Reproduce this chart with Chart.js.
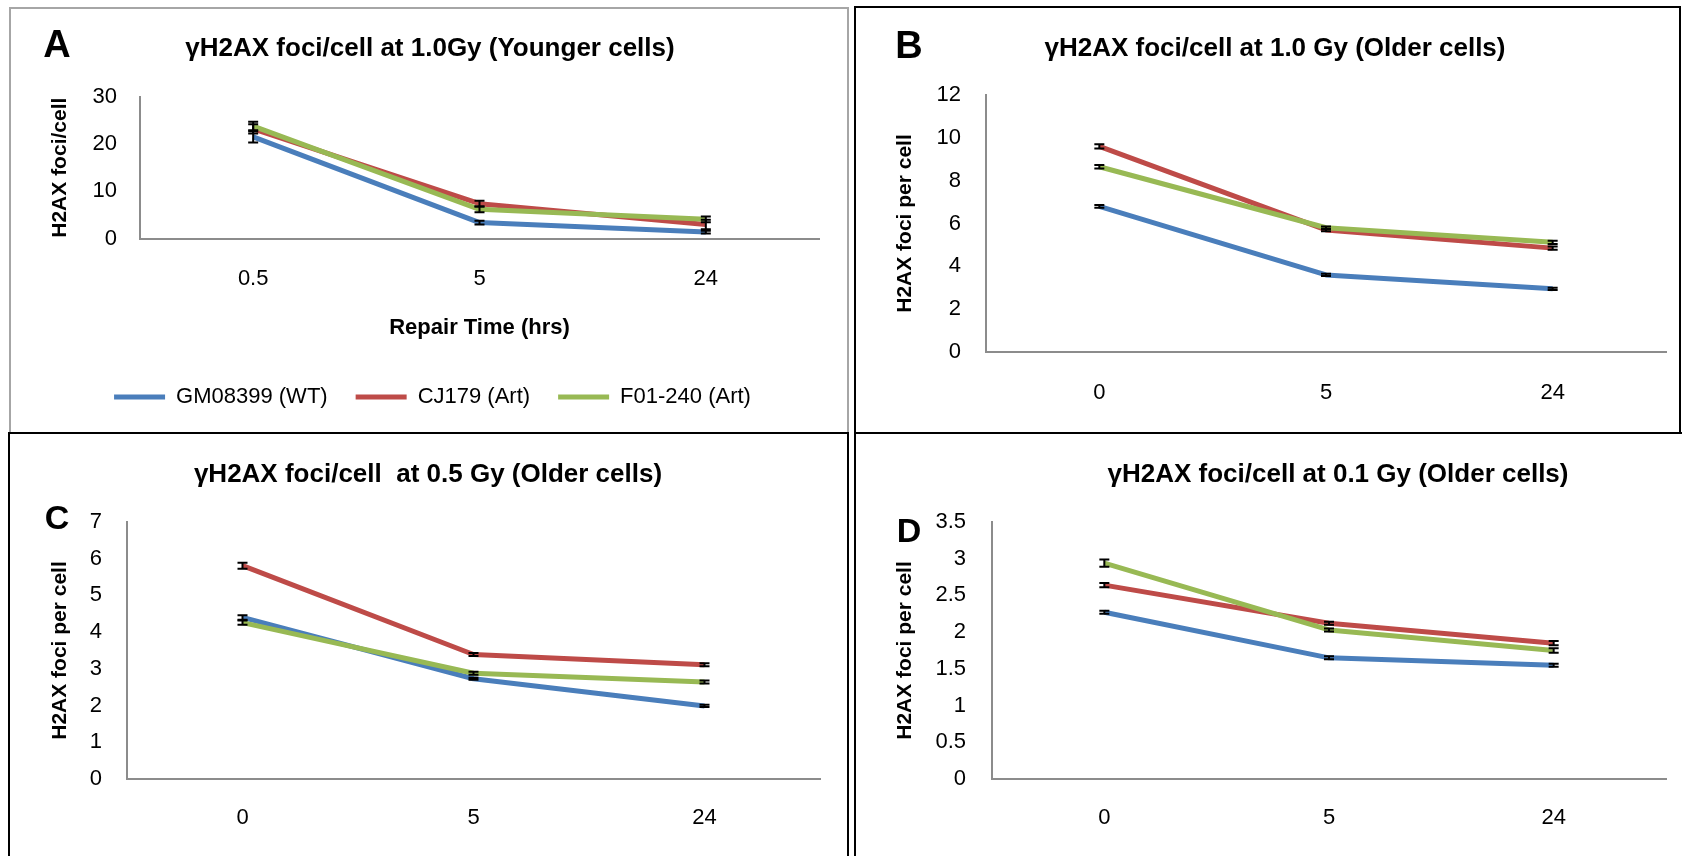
<!DOCTYPE html>
<html>
<head>
<meta charset="utf-8">
<script src="https://cdn.jsdelivr.net/npm/chart.js@4.4.0/dist/chart.umd.min.js"></script>
<style>
html, body { margin: 0; padding: 0; background: #fff; width: 1682px; height: 856px; overflow: hidden; }
body { position: relative; font-family: "Liberation Sans", Arial, sans-serif; color: #000; }
.box { position: absolute; box-sizing: border-box; }
canvas { position: absolute; }
.ttl { position: absolute; transform: translate(-50%, -50%); font-weight: bold; font-size: 26px; white-space: pre; }
.let { position: absolute; transform: translate(-50%, -50%); font-weight: bold; font-size: 38px; line-height: 1; }
</style>
</head>
<body>
<div class="box" style="left:9px;top:7px;width:840px;height:427px;border:2px solid #a6a6a6;border-bottom:none;"></div>
<div class="box" style="left:854px;top:6px;width:827px;height:428px;border:2px solid #000;"></div>
<div class="box" style="left:8px;top:432px;width:841px;height:440px;border:2px solid #000;border-bottom:none;"></div>
<div class="box" style="left:854px;top:432px;width:840px;height:440px;border-top:2px solid #000;border-left:2px solid #000;"></div>

<canvas id="chartA" width="802" height="425" style="left:46px;top:8px;"></canvas>
<canvas id="chartB" width="824" height="425" style="left:856px;top:8px;"></canvas>
<canvas id="chartC" width="838" height="422" style="left:10px;top:434px;"></canvas>
<canvas id="chartD" width="826" height="422" style="left:856px;top:434px;"></canvas>

<div class="ttl" style="left:430px;top:47px;">γH2AX foci/cell at 1.0Gy (Younger cells)</div>
<div class="ttl" style="left:1275px;top:47px;">γH2AX foci/cell at 1.0 Gy (Older cells)</div>
<div class="ttl" style="left:428px;top:473px;">γH2AX foci/cell  at 0.5 Gy (Older cells)</div>
<div class="ttl" style="left:1338px;top:473px;">γH2AX foci/cell at 0.1 Gy (Older cells)</div>

<div class="let" style="left:57px;top:44px;">A</div>
<div class="let" style="left:909px;top:45px;">B</div>
<div class="let" style="left:57px;top:517px;font-size:34px;">C</div>
<div class="let" style="left:909px;top:530px;font-size:34px;">D</div>

<script>
Chart.defaults.font.family = '"Liberation Sans", Arial, sans-serif';
Chart.defaults.color = '#000';
Chart.defaults.animation = false;

const timesYoung = ['0.5', '5', '24'];
const timesOld = ['0', '5', '24'];
const cellLines = ['GM08399 (WT)', 'CJ179 (Art)', 'F01-240 (Art)'];

// A - 1.0 Gy, younger cells
const a_wt = [21.5, 3.4, 1.4];
const a_cj = [23.2, 7.4, 3.0];
const a_f01 = [23.8, 6.2, 4.1];
const a_wtErr = [1.2, 0.4, 0.3];
const a_cjErr = [1.0, 0.6, 1.0];
const a_f01Err = [0.9, 0.6, 0.6];

// B - 1.0 Gy, older cells
const b_wt = [6.8, 3.6, 2.95];
const b_cj = [9.6, 5.7, 4.85];
const b_f01 = [8.65, 5.8, 5.12];
const b_wtErr = [0.06, 0.05, 0.05];
const b_cjErr = [0.1, 0.06, 0.08];
const b_f01Err = [0.08, 0.06, 0.08];

// C - 0.5 Gy, older cells
const c_wt = [4.40, 2.73, 1.99];
const c_cj = [5.81, 3.39, 3.11];
const c_f01 = [4.26, 2.88, 2.64];
const c_wtErr = [0.06, 0.03, 0.03];
const c_cjErr = [0.08, 0.04, 0.04];
const c_f01Err = [0.06, 0.04, 0.04];

// D - 0.1 Gy, older cells
const d_wt = [2.27, 1.65, 1.55];
const d_cj = [2.64, 2.12, 1.85];
const d_f01 = [2.94, 2.03, 1.75];
const d_wtErr = [0.02, 0.02, 0.02];
const d_cjErr = [0.03, 0.02, 0.03];
const d_f01Err = [0.05, 0.02, 0.03];

const lineColors = ['#4a7ebb', '#be4b48', '#98b954'];
const axisColor = '#8c8c8c';

const errorBars = {
    id: 'errorBars',
    afterDatasetsDraw(chart) {
        const ctx = chart.ctx;
        const yScale = chart.scales.y;
        chart.data.datasets.forEach((ds, i) => {
            const meta = chart.getDatasetMeta(i);
            ctx.save();
            ctx.strokeStyle = '#000';
            ctx.lineWidth = 2;
            meta.data.forEach((pt, j) => {
                const v = ds.data[j], e = ds.errors[j];
                const hi = yScale.getPixelForValue(v + e);
                const lo = yScale.getPixelForValue(v - e);
                ctx.beginPath();
                ctx.moveTo(pt.x, hi); ctx.lineTo(pt.x, lo);
                ctx.moveTo(pt.x - 5, hi); ctx.lineTo(pt.x + 5, hi);
                ctx.moveTo(pt.x - 5, lo); ctx.lineTo(pt.x + 5, lo);
                ctx.stroke();
            });
            ctx.restore();
        });
    }
};

const makePanel = (id, cats, series, errs, yMax, yStep, yTitle, lay) => {
    const datasets = series.map((vals, i) => ({
        label: cellLines[i],
        data: vals,
        errors: errs[i],
        borderColor: lineColors[i],
        backgroundColor: lineColors[i],
        borderWidth: 5,
        pointRadius: 0,
        tension: 0,
        fill: false,
        borderJoinStyle: 'round',
        order: 3 - i
    }));

    return new Chart(document.getElementById(id), {
        type: 'line',
        data: { labels: cats, datasets: datasets },
        options: {
            responsive: false,
            devicePixelRatio: 1,
            layout: { padding: { left: 0, right: lay.padR, top: lay.top, bottom: lay.padB } },
            plugins: {
                tooltip: { enabled: false },
                title: { display: false },
                legend: {
                    display: lay.legend,
                    position: 'bottom',
                    labels: {
                        boxWidth: 51,
                        boxHeight: 5,
                        padding: 28,
                        font: { size: 22 },
                        color: '#000',
                        sort: (a, b) => a.datasetIndex - b.datasetIndex,
                        generateLabels: (chart) => Chart.defaults.plugins.legend.labels.generateLabels(chart).map(l => ({ ...l, lineWidth: 0 }))
                    }
                }
            },
            scales: {
                x: {
                    offset: true,
                    grid: { display: false, drawTicks: false },
                    border: { display: true, color: axisColor, width: 2 },
                    ticks: { padding: lay.xTickPad, font: { size: 22 }, color: '#000' },
                    title: {
                        display: !!lay.xTitle,
                        text: lay.xTitle || '',
                        font: { size: 22, weight: 'bold' },
                        color: '#000',
                        padding: { top: 0, bottom: lay.xTitlePad || 0 }
                    },
                    afterFit: (s) => { s.height = lay.xHeight; }
                },
                y: {
                    min: 0,
                    max: yMax,
                    grid: { display: false, drawTicks: false },
                    border: { display: true, color: axisColor, width: 2 },
                    ticks: {
                        stepSize: yStep,
                        padding: lay.yTickPad,
                        font: { size: 22 },
                        color: '#000',
                        callback: (v) => String(Math.round(v * 10) / 10)
                    },
                    title: {
                        display: true,
                        text: yTitle,
                        font: { size: 21, weight: 'bold' },
                        color: '#000',
                        padding: { top: lay.yTitlePad, bottom: 0 }
                    },
                    afterFit: (s) => { s.width = lay.left; }
                }
            }
        },
        plugins: [errorBars]
    });
};

makePanel('chartA', timesYoung, [a_wt, a_cj, a_f01], [a_wtErr, a_cjErr, a_f01Err], 30, 10, 'H2AX foci/cell',
    { left: 94, padR: 29, top: 88.7, padB: 15, xHeight: 119.3, yTitlePad: 1.4, yTickPad: 23, xTickPad: 27,
      xTitle: 'Repair Time (hrs)', xTitlePad: 16.8, legend: true });

makePanel('chartB', timesOld, [b_wt, b_cj, b_f01], [b_wtErr, b_cjErr, b_f01Err], 12, 2, 'H2AX foci per cell',
    { left: 130, padR: 14, top: 87, padB: 0, xHeight: 81, yTitlePad: 36.4, yTickPad: 25, xTickPad: 27.8, legend: false });

makePanel('chartC', timesOld, [c_wt, c_cj, c_f01], [c_wtErr, c_cjErr, c_f01Err], 7, 1, 'H2AX foci per cell',
    { left: 117, padR: 28, top: 88, padB: 0, xHeight: 77, yTitlePad: 37.4, yTickPad: 25, xTickPad: 25.8, legend: false });

makePanel('chartD', timesOld, [d_wt, d_cj, d_f01], [d_wtErr, d_cjErr, d_f01Err], 3.5, 0.5, 'H2AX foci per cell',
    { left: 136, padR: 16, top: 88, padB: 0, xHeight: 77, yTitlePad: 36.4, yTickPad: 26, xTickPad: 25.8, legend: false });
</script>
</body>
</html>
